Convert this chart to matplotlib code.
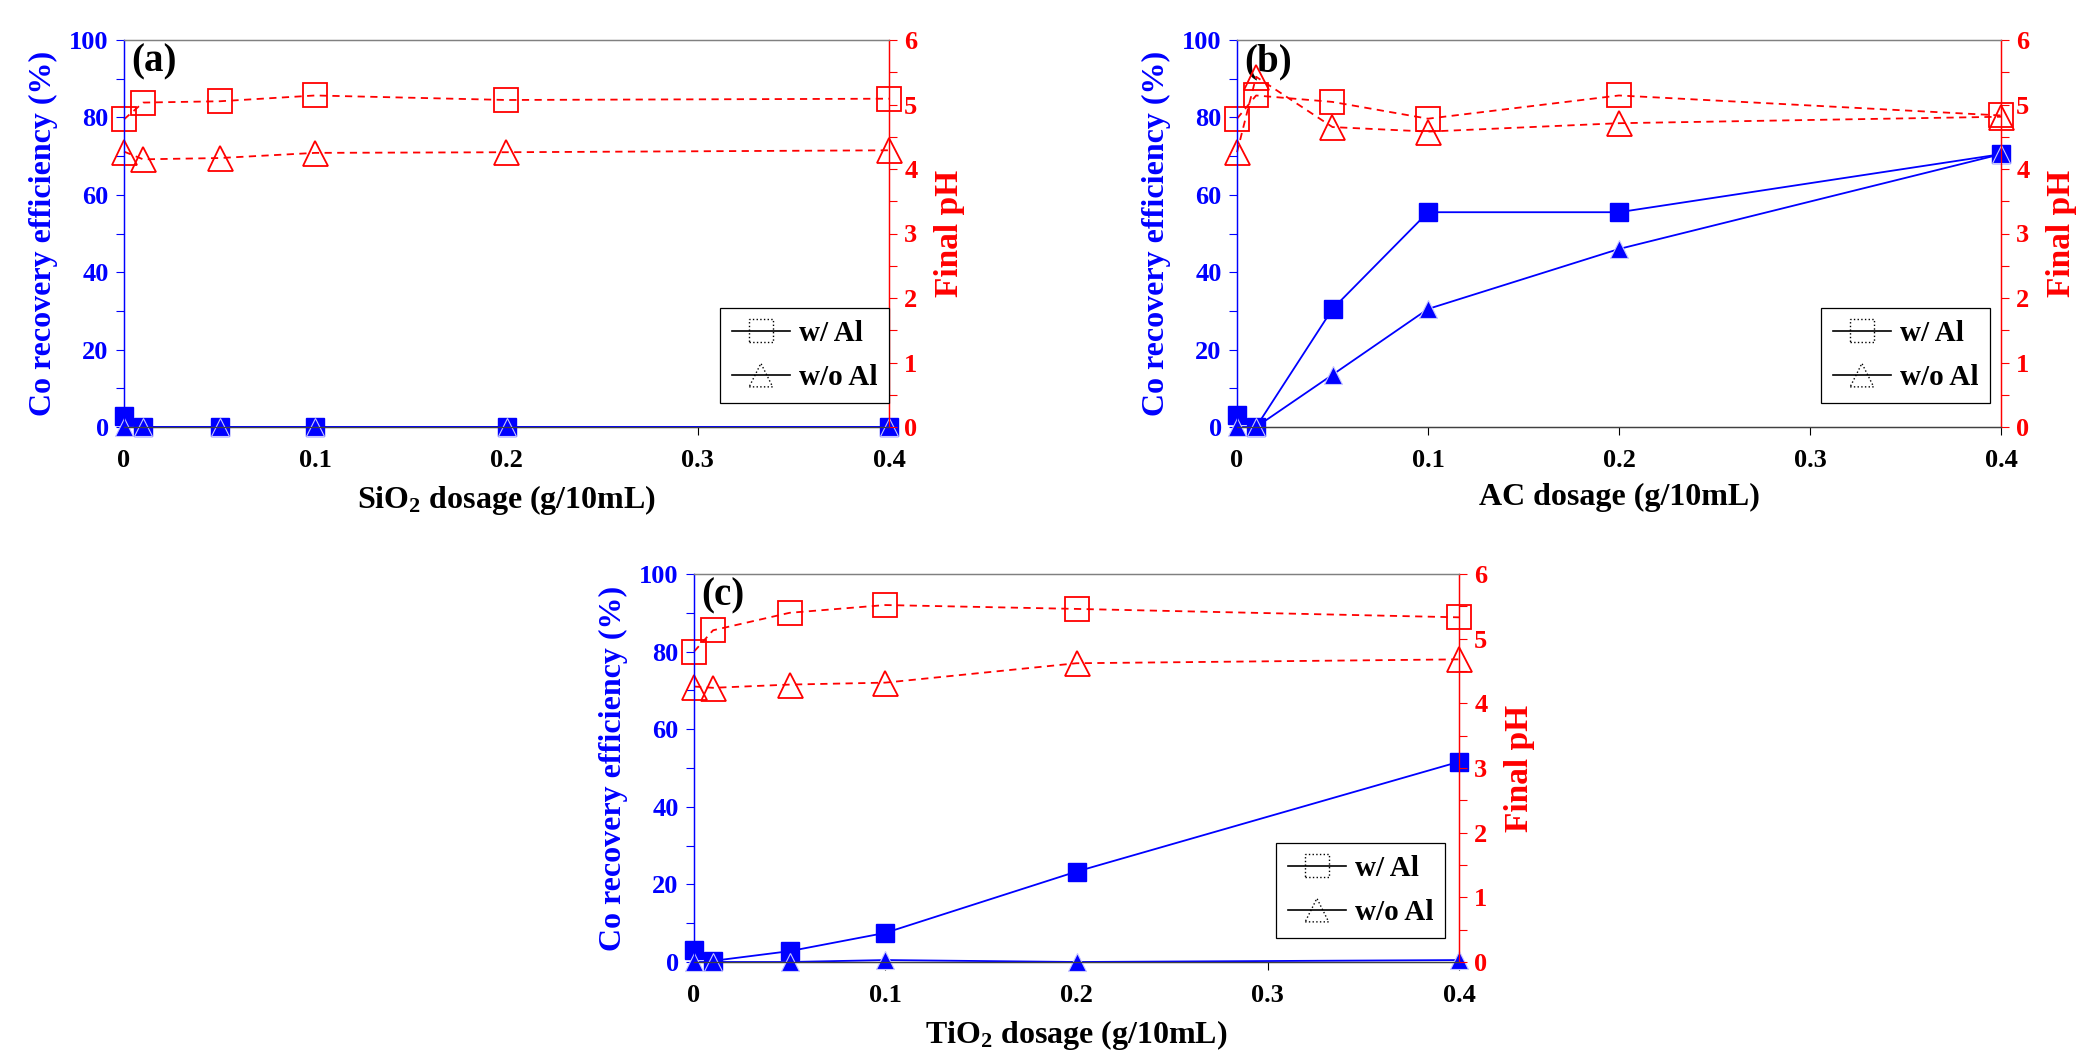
import matplotlib
matplotlib.use("Agg")
import matplotlib.pyplot as plt
from matplotlib.legend_handler import HandlerBase
from matplotlib.lines import Line2D
from matplotlib.patches import Rectangle, Polygon
from matplotlib.ticker import MultipleLocator

plt.rcParams["font.family"] = ["Liberation Serif", "DejaVu Serif"]
plt.rcParams["font.weight"] = "bold"
plt.rcParams["axes.labelweight"] = "bold"
plt.rcParams["mathtext.fontset"] = "custom"
plt.rcParams["mathtext.rm"] = "Liberation Serif:bold"
plt.rcParams["mathtext.default"] = "regular"

# dosage (g/10mL), shared by all three panels
dosage = [0, 0.01, 0.05, 0.1, 0.2, 0.4]

# (a) SiO2
sio2_co_al = [2.8, 0, 0, 0, 0, 0]
sio2_co_noal = [0, 0, 0, 0, 0, 0]
sio2_ph_al = [4.77, 5.03, 5.05, 5.14, 5.07, 5.09]
sio2_ph_noal = [4.27, 4.15, 4.17, 4.25, 4.26, 4.29]

# (b) AC
ac_co_al = [3.0, 0, 30.5, 55.5, 55.5, 70.5]
ac_co_noal = [0, 0, 13.5, 30.5, 46.0, 70.5]
ac_ph_al = [4.78, 5.14, 5.04, 4.78, 5.14, 4.83]
ac_ph_noal = [4.26, 5.43, 4.65, 4.58, 4.71, 4.81]

# (c) TiO2
tio2_co_al = [3.2, 0.3, 2.8, 7.5, 23.3, 51.6]
tio2_co_noal = [0, 0, 0, 0.5, 0, 0.5]
tio2_ph_al = [4.80, 5.13, 5.40, 5.52, 5.46, 5.33]
tio2_ph_noal = [4.26, 4.24, 4.29, 4.32, 4.62, 4.68]

panels = [
    ("(a)", "SiO$_{2}$ dosage (g/10mL)", sio2_co_al, sio2_co_noal, sio2_ph_al, sio2_ph_noal),
    ("(b)", "AC dosage (g/10mL)", ac_co_al, ac_co_noal, ac_ph_al, ac_ph_noal),
    ("(c)", "TiO$_{2}$ dosage (g/10mL)", tio2_co_al, tio2_co_noal, tio2_ph_al, tio2_ph_noal),
]

W, H = 2097, 1059
# axes boxes in pixels: left, top, right, bottom
boxes = [(124, 40, 889, 427), (1237, 40, 2001, 427), (694, 574, 1459, 962)]
legend_right = [889, 1990, 1445]

BLUE = "#0000ff"
RED = "#ff0000"


class DottedMarkerHandler(HandlerBase):
    def __init__(self, shape):
        super().__init__()
        self.shape = shape

    def create_artists(self, legend, orig_handle, xdescent, ydescent, width, height, fontsize, trans):
        cy = height / 2 - ydescent
        line = Line2D([-xdescent, width - xdescent], [cy, cy], color="black", lw=1.2, transform=trans)
        cx = width / 2 - xdescent
        s = height * 1.15
        if self.shape == "s":
            m = Rectangle((cx - s / 2, cy - s / 2), s, s, fill=False, ec="black", lw=1.0, ls=":", transform=trans)
        else:
            m = Polygon([(cx - s / 2, cy - s / 2), (cx + s / 2, cy - s / 2), (cx, cy + s / 2)],
                        closed=True, fill=False, ec="black", lw=1.0, ls=":", transform=trans)
        return [line, m]


fig = plt.figure(figsize=(W / 100, H / 100), dpi=100)

for (tag, xlabel, co_al, co_noal, ph_al, ph_noal), (l, t, r, b), lr in zip(panels, boxes, legend_right):
    ax = fig.add_axes([l / W, 1 - b / H, (r - l) / W, (b - t) / H])
    ax2 = ax.twinx()

    ax.plot(dosage, co_al, color=BLUE, lw=1.3, marker="s", ms=13, mec=BLUE, clip_on=False, zorder=3)
    ax.plot(dosage, co_noal, color=BLUE, lw=1.3, marker="^", ms=13, mec="#c8c8ff", mew=0.8,
            clip_on=False, zorder=4)
    ax2.plot(dosage, ph_al, color=RED, lw=1.3, ls=(0, (4, 3)), marker="s", ms=17, mfc="none",
             mec=RED, mew=1.3, clip_on=False)
    ax2.plot(dosage, ph_noal, color=RED, lw=1.3, ls=(0, (4, 3)), marker="^", ms=18, mfc="none",
             mec=RED, mew=1.3, clip_on=False)

    ax.set_xlim(0, 0.4)
    ax.set_ylim(0, 100)
    ax2.set_ylim(0, 6)
    ax.set_xticks([0, 0.1, 0.2, 0.3, 0.4])
    ax.set_xticklabels(["0", "0.1", "0.2", "0.3", "0.4"])
    ax.yaxis.set_major_locator(MultipleLocator(20))
    ax.yaxis.set_minor_locator(MultipleLocator(10))
    ax2.yaxis.set_major_locator(MultipleLocator(1))
    ax2.yaxis.set_minor_locator(MultipleLocator(0.5))

    ax.tick_params(axis="x", direction="out", length=6, width=0.8, labelsize=19, colors="black", pad=10)
    ax.tick_params(axis="y", which="both", direction="out", length=6, width=0.8, labelsize=19,
                   colors=BLUE, pad=5)
    ax2.tick_params(axis="y", which="both", direction="out", length=6, width=0.8, labelsize=19,
                    colors=RED, pad=5)

    for a in (ax, ax2):
        a.spines["left"].set_color(BLUE)
        a.spines["right"].set_color(RED)
        a.spines["top"].set_color("#808080")
        a.spines["bottom"].set_color("#404040")
        for s in a.spines.values():
            s.set_linewidth(0.9)

    ax.set_xlabel(xlabel, fontsize=23, labelpad=8, color="black")
    ax.set_ylabel("Co recovery efficiency (%)", fontsize=23, color=BLUE, labelpad=8)
    ax2.set_ylabel("Final pH", fontsize=24, color=RED, labelpad=12)

    ax.text(0.01, 0.99, tag, transform=ax.transAxes, fontsize=28, va="top", ha="left", color="black")

    h_sq = Line2D([], [], color="black")
    h_tr = Line2D([], [], color="black")
    bx = (lr - l) / (r - l)
    by = 24 / (b - t)
    ax2.legend([h_sq, h_tr], ["w/ Al", "w/o Al"],
               handler_map={h_sq: DottedMarkerHandler("s"), h_tr: DottedMarkerHandler("^")},
               loc="lower right", bbox_to_anchor=(bx, by), bbox_transform=ax.transAxes,
               borderaxespad=0, frameon=True, fancybox=False, edgecolor="black",
               framealpha=1, handlelength=2.0, handletextpad=0.3, labelspacing=0.6,
               borderpad=0.4, prop={"weight": "bold", "size": 21})
    ax2.get_legend().get_frame().set_linewidth(0.9)

fig.savefig("out.png", dpi=100)
